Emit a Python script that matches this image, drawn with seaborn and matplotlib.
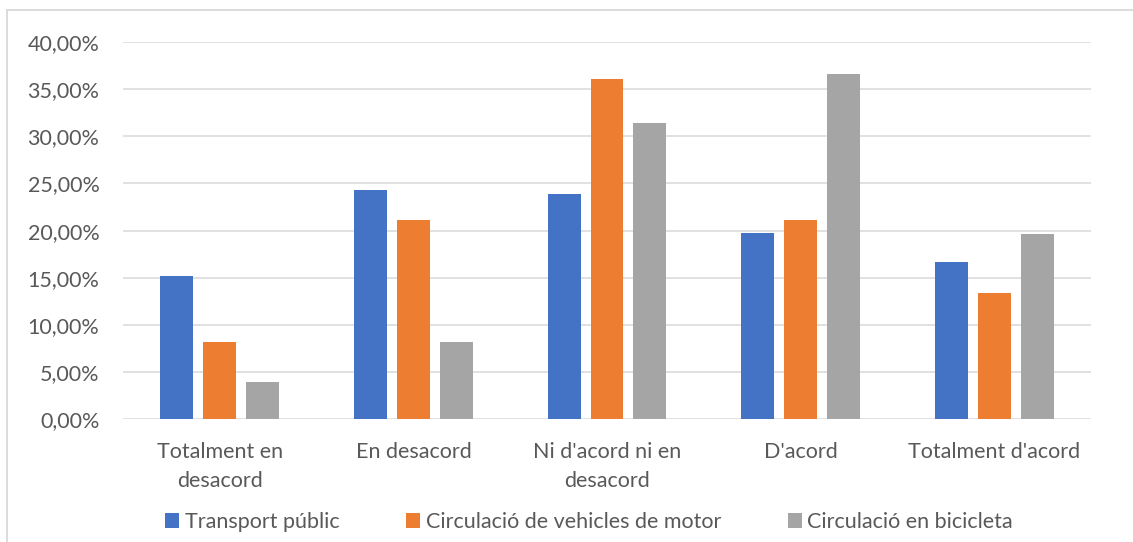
import pandas as pd
import matplotlib.pyplot as plt
import seaborn as sns
from matplotlib.lines import Line2D
from matplotlib.patches import Patch
from matplotlib.ticker import FuncFormatter

categories = ["Totalment en\ndesacord", "En desacord", "Ni d'acord ni en\ndesacord",
              "D'acord", "Totalment d'acord"]
series = ["Transport públic", "Circulació de vehicles de motor", "Circulació en bicicleta"]
transport_public = [0.152, 0.243, 0.239, 0.198, 0.167]
vehicles_motor = [0.082, 0.211, 0.361, 0.211, 0.134]
bicicleta = [0.040, 0.082, 0.314, 0.366, 0.196]
colors = ["#4472C4", "#ED7D31", "#A5A5A5"]

text_color = "#595959"
grid_color = "#D9D9D9"
fsize = 15.5

# long format table for seaborn
rows = []
for name, vals in zip(series, [transport_public, vehicles_motor, bicicleta]):
    for cat, v in zip(categories, vals):
        rows.append({"categoria": cat, "serie": name, "valor": v})
df = pd.DataFrame(rows)

sns.set_style("white")
plt.rcParams["font.family"] = ["Lato", "DejaVu Sans"]

fig = plt.figure(figsize=(11.33, 5.42), dpi=100)
ax = fig.add_axes([123 / 1133, 1 - 419.3 / 542, (1091 - 123) / 1133, (419.3 - 42) / 542])

sns.barplot(data=df, x="categoria", y="valor", hue="serie", palette=colors, saturation=1,
            width=0.665, gap=0.233, linewidth=0, legend=False, ax=ax)

ax.set_ylim(0, 0.40)
ax.set_yticks([i * 0.05 for i in range(9)])
ax.yaxis.set_major_formatter(FuncFormatter(lambda v, _: f"{v * 100:.2f}%".replace(".", ",")))
ax.set_axisbelow(True)
ax.yaxis.grid(True, color=grid_color, linewidth=1.1)
for s in ax.spines.values():
    s.set_visible(False)
ax.set_xlabel("")
ax.set_ylabel("")
ax.tick_params(axis="y", length=0, pad=17, labelsize=fsize, labelcolor=text_color)
ax.tick_params(axis="x", length=0, pad=16, labelsize=fsize, labelcolor=text_color)
for lbl in ax.get_xticklabels():
    lbl.set_linespacing(1.62)

handles = [Patch(facecolor=c, edgecolor="none", label=n) for c, n in zip(colors, series)]
fig.legend(handles=handles, loc="center", bbox_to_anchor=(589 / 1133, 1 - 522 / 542),
           ncol=3, frameon=False, fontsize=fsize, labelcolor=text_color,
           handlelength=0.65, handleheight=0.65, handletextpad=0.25, columnspacing=3.1)

# outer chart frame (cropped)
fig.add_artist(Line2D([7 / 1133, 1], [1 - 10 / 542, 1 - 10 / 542], color=grid_color, linewidth=1.3))
fig.add_artist(Line2D([7 / 1133, 7 / 1133], [0, 1 - 10 / 542], color=grid_color, linewidth=1.3))

fig.savefig("out.png", dpi=100)
plt.close(fig)
